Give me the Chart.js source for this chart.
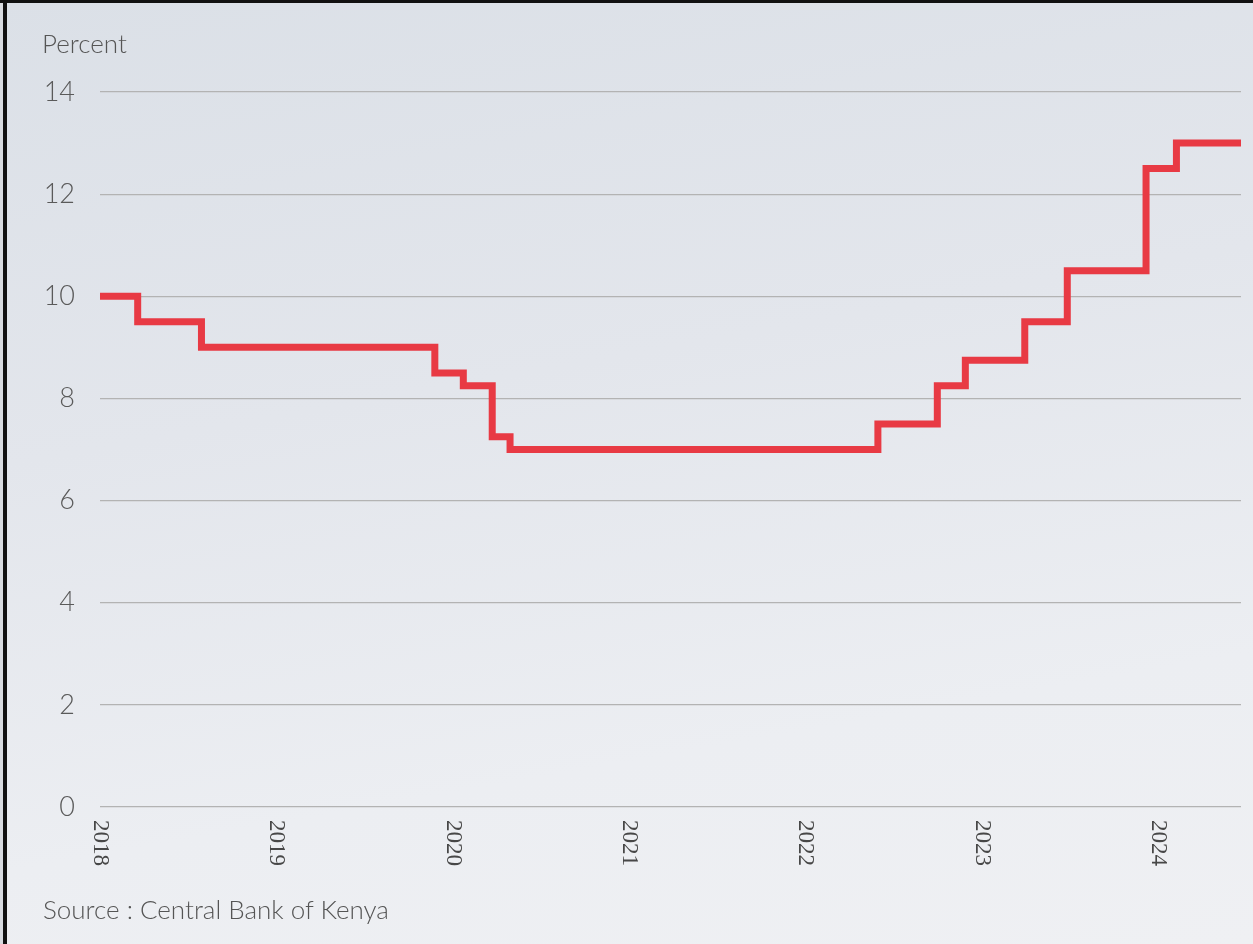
<!DOCTYPE html>
<html>
<head>
<meta charset="utf-8">
<title>Central Bank Rate, Kenya</title>
<script src="https://cdn.jsdelivr.net/npm/chart.js@4/dist/chart.umd.min.js"></script>
<style>
  html, body { margin: 0; padding: 0; }
  body {
    width: 1253px; height: 944px; position: relative; overflow: hidden;
    background: linear-gradient(170deg, #dbe0e7 0%, #e3e6ec 40%, #eceef2 75%, #eff0f3 100%);
    font-family: "Lato", "Liberation Sans", sans-serif;
  }
  #chart { position: absolute; left: 0; top: 0; }
  .frame-top { position: absolute; left: 0; top: 0; width: 1253px; height: 3px; background: #111; }
  .frame-left { position: absolute; left: 3px; top: 0; width: 4px; height: 944px; background: #111; }
  .frame-edge { position: absolute; left: 0; top: 0; width: 3px; height: 944px; background: #d8dbe0; }
  .unit { position: absolute; left: 42px; top: 27px; font-size: 26px; font-weight: 300; color: #555; }
  .source { position: absolute; left: 43px; top: 893px; font-size: 26px; font-weight: 300; color: #555; }
</style>
</head>
<body>
<canvas id="chart" width="1253" height="944"></canvas>
<div class="frame-edge"></div>
<div class="frame-left"></div>
<div class="frame-top"></div>
<div class="unit">Percent</div>
<div class="source">Source : Central Bank of Kenya</div>
<script>
// Central Bank Rate decisions (effective dates) and the rate set at each
const rateDates = [
  '2018-01-01', '2018-03-20', '2018-07-30', '2019-11-25', '2020-01-23',
  '2020-03-23', '2020-04-29', '2022-05-31', '2022-10-01', '2022-11-28',
  '2023-03-31', '2023-06-27', '2023-12-07', '2024-02-08', '2024-06-21'
];
const rateValues = [10, 9.5, 9, 8.5, 8.25, 7.25, 7, 7.5, 8.25, 8.75, 9.5, 10.5, 12.5, 13, 13];

// Axis ticks
const yearTicks = [2018, 2019, 2020, 2021, 2022, 2023, 2024];
const percentTicks = [0, 2, 4, 6, 8, 10, 12, 14];

// Convert an ISO date to a fractional year for the linear x scale
function toYearFraction(iso) {
  const [y, m, d] = iso.split('-').map(Number);
  const start = Date.UTC(y, 0, 1);
  const end = Date.UTC(y + 1, 0, 1);
  return y + (Date.UTC(y, m - 1, d) - start) / (end - start);
}

const points = rateDates.map((d, i) => ({ x: toYearFraction(d), y: rateValues[i] }));

// Year labels, drawn reading top-to-bottom beneath each tick
const yearLabels = {
  id: 'yearLabels',
  afterDraw(chart) {
    const { ctx, scales: { x }, chartArea } = chart;
    ctx.save();
    ctx.font = '23px "Liberation Serif", "Times New Roman", Times, serif';
    ctx.fillStyle = '#474747';
    ctx.textAlign = 'left';
    ctx.textBaseline = 'middle';
    yearTicks.forEach(yr => {
      const px = x.getPixelForValue(yr);
      ctx.save();
      ctx.translate(px, chartArea.bottom + 13);
      ctx.rotate(Math.PI / 2);
      ctx.fillText(String(yr), 0, 0);
      ctx.restore();
    });
    ctx.restore();
  }
};

new Chart(document.getElementById('chart'), {
  type: 'line',
  data: {
    datasets: [{
      data: points,
      stepped: 'before',
      borderColor: '#e83a44',
      borderWidth: 7,
      borderCapStyle: 'butt',
      borderJoinStyle: 'miter',
      pointRadius: 0,
      fill: false,
      clip: false
    }]
  },
  options: {
    responsive: false,
    animation: false,
    devicePixelRatio: 1,
    layout: { autoPadding: false, padding: { top: 92, right: 12, bottom: 137, left: 0 } },
    plugins: { legend: { display: false }, tooltip: { enabled: false } },
    scales: {
      x: {
        type: 'linear',
        min: 2018,
        max: points[points.length - 1].x,
        grid: { display: false },
        border: { display: false },
        ticks: { display: false },
        afterFit(scale) { scale.height = 0; }
      },
      y: {
        min: 0,
        max: 14,
        afterBuildTicks(scale) { scale.ticks = percentTicks.map(v => ({ value: v })); },
        grid: { color: '#b3b3b3', lineWidth: 1.2, drawTicks: false },
        border: { display: false },
        ticks: {
          padding: 25,
          color: '#5a5a5a',
          font: { family: 'Lato', size: 27, weight: '300' }
        },
        afterFit(scale) { scale.width = 100; }
      }
    }
  },
  plugins: [yearLabels]
});
</script>
</body>
</html>
